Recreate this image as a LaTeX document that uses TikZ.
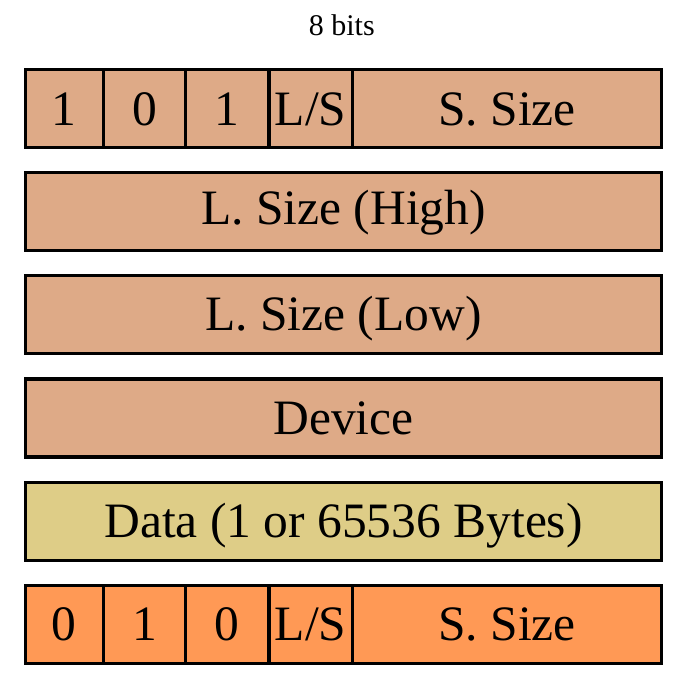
\documentclass[tikz,border=0pt]{standalone}
\usepackage{fontspec}
\setmainfont{Liberation Serif}
\definecolor{tan}{HTML}{DEAA87}
\definecolor{sand}{HTML}{DECD87}
\definecolor{orng}{HTML}{FF9955}
\begin{document}
\begin{tikzpicture}[x=1pt,y=-1pt,
  cell/.style={draw=black,line width=3.3pt,inner sep=0pt,anchor=north west,
    minimum height=78pt,text height=32.6pt,text depth=0pt,
    font=\fontsize{49.5}{59}\selectfont},
  tanc/.style={cell,fill=tan},
  sandc/.style={cell,fill=sand},
  orngc/.style={cell,fill=orng}]
\useasboundingbox (0,0) rectangle (693,681);
\fill[white] (0,0) rectangle (693,681);
\node[anchor=base,font=\fontsize{30}{36}\selectfont] (title) at (341.8,35) {8 bits};
% row 1
\node[tanc,minimum width=78pt,text height=34pt] (r1a) at (23.7,67.7) {1};
\node[tanc,minimum width=82.3pt,text height=34pt] (r1b) at (101.7,67.7) {0};
\node[tanc,minimum width=83.3pt,text height=34pt] (r1c) at (184,67.7) {1};
\node[tanc,minimum width=83.4pt,text height=34pt] (r1d) at (267.3,67.7) {L/S};
\node[tanc,minimum width=309.3pt,text height=34pt] (r1e) at (350.7,67.7) {S. Size};
% rows 2-5
\node[tanc,minimum width=636.3pt,text height=26pt] (r2) at (23.7,170.7) {L. Size (High)};
\node[tanc,minimum width=636.3pt] (r3) at (23.7,273.9) {L. Size (Low)};
\node[tanc,minimum width=636.3pt] (r4) at (23.7,377.2) {Device};
\node[sandc,minimum width=636.3pt] (r5) at (23.7,480.5) {Data (1 or 65536 Bytes)};
% row 6
\node[orngc,minimum width=78pt] (r6a) at (23.7,583.8) {0};
\node[orngc,minimum width=82.3pt] (r6b) at (101.7,583.8) {1};
\node[orngc,minimum width=83.3pt] (r6c) at (184,583.8) {0};
\node[orngc,minimum width=83.4pt] (r6d) at (267.3,583.8) {L/S};
\node[orngc,minimum width=309.3pt] (r6e) at (350.7,583.8) {S. Size};
\end{tikzpicture}
\end{document}
